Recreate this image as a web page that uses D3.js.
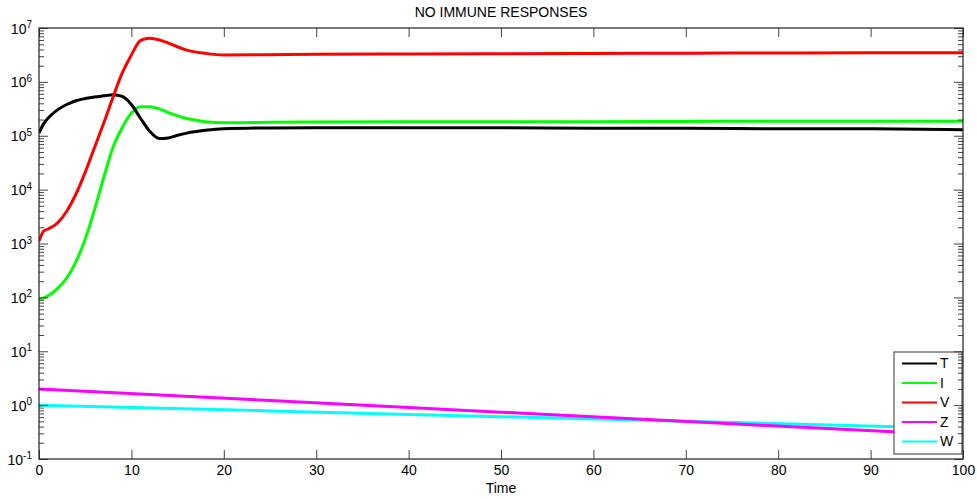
<!DOCTYPE html>
<html><head><meta charset="utf-8">
<script src="https://cdn.jsdelivr.net/npm/d3@7"></script>
<style>
body{margin:0;background:#fff}
text{font-family:"Liberation Sans",Arial,sans-serif;fill:#000}
</style>
</head><body><svg id="c" width="977" height="499"></svg>
<script>
// ---- data ----
const title = "NO IMMUNE RESPONSES";
const xLabel = "Time";
const time = [0,0.5,1,2,3,4,5,6,7,8,9,10,11,12,13,14,15,16,18,20,25,30,40,50,60,70,80,90,100];
const T = [1.12e5,1.66e5,2.14e5,3.02e5,3.80e5,4.47e5,4.90e5,5.25e5,5.50e5,5.75e5,5.37e5,3.80e5,2.09e5,1.20e5,8.9e4,9.1e4,1.02e5,1.12e5,1.26e5,1.35e5,1.40e5,1.41e5,1.41e5,1.41e5,1.38e5,1.38e5,1.35e5,1.35e5,1.29e5];
const I = [93,98,107,145,229,457,1.20e3,4.17e3,1.66e4,6.03e4,1.41e5,2.63e5,3.47e5,3.47e5,3.16e5,2.69e5,2.34e5,2.09e5,1.82e5,1.74e5,1.78e5,1.80e5,1.82e5,1.82e5,1.82e5,1.84e5,1.86e5,1.86e5,1.86e5];
const V = [1.1e3,1.7e3,1.86e3,2.40e3,3.98e3,8.3e3,2.09e4,6.0e4,1.70e5,5.13e5,1.45e6,3.16e6,5.89e6,6.46e6,6.03e6,5.25e6,4.47e6,3.89e6,3.39e6,3.16e6,3.20e6,3.24e6,3.29e6,3.33e6,3.37e6,3.40e6,3.44e6,3.47e6,3.47e6];
const timeZW = [0,25,50,75,100];
const Z = [2.0,1.22,0.74,0.45,0.275];
const W = [1.0,0.78,0.61,0.476,0.37];
const xTicks = [0,10,20,30,40,50,60,70,80,90,100];
const yExponents = [-1,0,1,2,3,4,5,6,7];
const legendLabels = ["T","I","V","Z","W"];
const colors = ["#000000","#00ff00","#ff0000","#ff00ff","#00ffff"];

// ---- layout ----
const svg = d3.select("#c");
const m = {l:39, t:28, r:14, b:40};
const W0 = 977, H0 = 499;
const w = W0 - m.l - m.r, h = H0 - m.t - m.b;
const g = svg.append("g").attr("transform", `translate(${m.l},${m.t})`);

const x = d3.scaleLinear().domain([0,100]).range([0,w]);
const y = d3.scaleLog().domain([1e-1,1e7]).range([h,0]);

const yMajor = yExponents.map(e => Math.pow(10,e));
const yMinor = [];
yExponents.slice(0,-1).forEach(e => { for (let k=2;k<=9;k++) yMinor.push(k*Math.pow(10,e)); });

// ---- series ----
const series = [
  {name:"T", t:time, v:T},
  {name:"I", t:time, v:I},
  {name:"V", t:time, v:V},
  {name:"Z", t:timeZW, v:Z},
  {name:"W", t:timeZW, v:W}
];
const line = d3.line().x(d=>x(d[0])).y(d=>y(d[1])).curve(d3.curveMonotoneX);
const drawOrder = [4,3,1,0,2];
g.append("defs").append("clipPath").attr("id","clip").append("rect").attr("width",w).attr("height",h);
const lines = g.append("g").attr("clip-path","url(#clip)");
drawOrder.forEach(i => {
  const s = series[i];
  lines.append("path")
    .datum(s.t.map((tt,j)=>[tt,s.v[j]]))
    .attr("fill","none").attr("stroke",colors[i]).attr("stroke-width",3)
    .attr("stroke-linejoin","round")
    .attr("d",line);
});

// ---- legend ----
const lg = g.append("g").attr("transform",`translate(${x(0)+855},${324})`);
lg.append("rect").attr("x",0).attr("y",0).attr("width",68).attr("height",102)
  .attr("fill","#fff").attr("stroke","#333").attr("stroke-width",1);
legendLabels.forEach((lab,i)=>{
  const yy = 11.5 + i*19.5;
  lg.append("line").attr("x1",8).attr("x2",43).attr("y1",yy).attr("y2",yy)
    .attr("stroke",colors[i]).attr("stroke-width",2);
  lg.append("text").attr("x",46).attr("y",yy).attr("dy","0.35em")
    .attr("font-size",14).text(lab);
});

// ---- axes ----
const axColor = "#222";
function style(sel){
  sel.select(".domain").remove();
  sel.selectAll(".tick line").attr("stroke","#444");
}
const xb = g.append("g").attr("transform",`translate(0,${h})`)
  .call(d3.axisBottom(x).tickValues(xTicks).tickSizeInner(-9).tickSizeOuter(0).tickPadding(6).tickFormat(d3.format("d")));
style(xb);
xb.selectAll("text").attr("font-size",14).attr("dy","0.9em").attr("y",3);
const xt = g.append("g").call(d3.axisTop(x).tickValues(xTicks).tickSizeInner(-9).tickSizeOuter(0).tickFormat(""));
style(xt);
const yl = g.append("g").call(d3.axisLeft(y).tickValues(yMajor).tickSizeInner(-9).tickSizeOuter(0).tickFormat(""));
style(yl);
yl.selectAll(".tick").each(function(d,i){
  const t = d3.select(this).append("text").attr("x",-7).attr("y",0).attr("dy","0.36em")
    .attr("text-anchor","end").attr("font-size",14).attr("fill","#000");
  t.append("tspan").text("10");
  t.append("tspan").attr("dy","-0.55em").attr("font-size",10).text(yExponents[i]);
});
const ylm = g.append("g").call(d3.axisLeft(y).tickValues(yMinor).tickSizeInner(-5).tickSizeOuter(0).tickFormat(""));
style(ylm);
const yr = g.append("g").attr("transform",`translate(${w},0)`)
  .call(d3.axisRight(y).tickValues(yMajor).tickSizeInner(-9).tickSizeOuter(0).tickFormat(""));
style(yr);
const yrm = g.append("g").attr("transform",`translate(${w},0)`)
  .call(d3.axisRight(y).tickValues(yMinor).tickSizeInner(-5).tickSizeOuter(0).tickFormat(""));
style(yrm);
g.append("rect").attr("width",w).attr("height",h).attr("fill","none").attr("stroke",axColor).attr("stroke-width",1.2);

// ---- titles ----
svg.append("text").attr("x",m.l+w/2).attr("y",12.5).attr("dy","0.35em")
  .attr("text-anchor","middle").attr("font-size",14).text(title);
svg.append("text").attr("x",m.l+w/2).attr("y",488).attr("dy","0.35em")
  .attr("text-anchor","middle").attr("font-size",14).text(xLabel);
</script>
</body></html>
